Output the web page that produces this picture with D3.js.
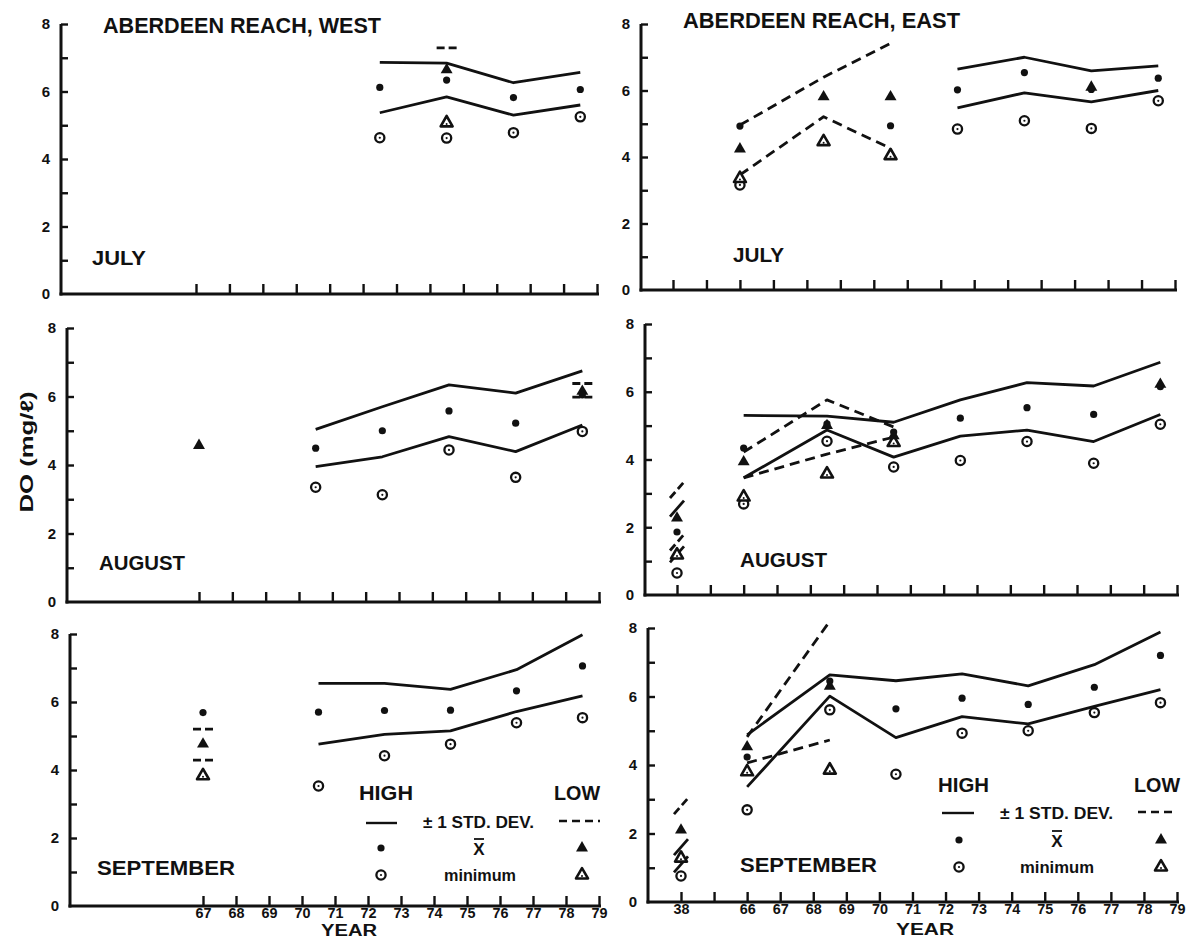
<!DOCTYPE html>
<html>
<head>
<meta charset="utf-8">
<script src="https://cdn.jsdelivr.net/npm/d3@7"></script>
<style>
  body { margin: 0; background: #fff; }
  text { font-family: "Liberation Sans", Arial, sans-serif; font-weight: bold; fill: #111; }
</style>
</head>
<body>
<svg id="chart" width="1189" height="942"></svg>
<script>
// years on each column (east column has a broken axis: 38, gap, 66..79)
var westYears = [67, 70.5, 72.5, 74.5, 76.5, 78.5];
var eastYears = [38, 66, 68.5, 70.5, 72.5, 74.5, 76.5, 78.5];
var westTickYears = [67, 68, 69, 70, 71, 72, 73, 74, 75, 76, 77, 78, 79];
var eastTickLabels = ["38", "", "66", "67", "68", "69", "70", "71", "72", "73", "74", "75", "76", "77", "78", "79"];
var doTicks = [0, 1, 2, 3, 4, 5, 6, 7, 8];

// Aberdeen Reach, West - July
var wJulHighUp   = [null, null, 6.86, 6.84, 6.26, 6.57];
var wJulHighLo   = [null, null, 5.37, 5.84, 5.30, 5.60];
var wJulHighMean = [null, null, 6.12, 6.34, 5.82, 6.06];
var wJulHighMin  = [null, null, 4.63, 4.62, 4.78, 5.25];
var wJulLowUp    = [null, null, null, 7.29, null, null];
var wJulLowLo    = [null, null, null, null, null, null];
var wJulLowMean  = [null, null, null, 6.64, null, null];
var wJulLowMin   = [null, null, null, 5.07, null, null];

// West - August
var wAugHighUp   = [null, 5.04, 5.70, 6.34, 6.10, 6.75];
var wAugHighLo   = [null, 3.95, 4.24, 4.83, 4.39, 5.17];
var wAugHighMean = [null, 4.49, 5.00, 5.58, 5.22, 6.05];
var wAugHighMin  = [null, 3.35, 3.13, 4.44, 3.64, 4.98];
var wAugLowUp    = [null, null, null, null, null, 6.38];
var wAugLowLo    = [null, null, null, null, null, 5.98];
var wAugLowMean  = [4.57, null, null, null, null, 6.15];
var wAugLowMin   = [null, null, null, null, null, null];

// West - September
var wSepHighUp   = [null, 6.55, 6.55, 6.37, 6.95, 7.98];
var wSepHighLo   = [null, 4.76, 5.05, 5.15, 5.72, 6.18];
var wSepHighMean = [5.69, 5.70, 5.75, 5.76, 6.33, 7.06];
var wSepHighMin  = [null, 3.53, 4.42, 4.76, 5.39, 5.54];
var wSepLowUp    = [5.20, null, null, null, null, null];
var wSepLowLo    = [4.29, null, null, null, null, null];
var wSepLowMean  = [4.76, null, null, null, null, null];
var wSepLowMin   = [3.83, null, null, null, null, null];

// Aberdeen Reach, East - July
var eJulHighUp   = [null, null, null, null, 6.64, 7.00, 6.59, 6.74];
var eJulHighLo   = [null, null, null, null, 5.48, 5.93, 5.66, 6.00];
var eJulHighMean = [null, 4.93, null, 4.94, 6.02, 6.54, 6.03, 6.37];
var eJulHighMin  = [null, 3.16, null, null, 4.84, 5.09, 4.86, 5.69];
var eJulLowUp    = [null, 4.96, 6.40, 7.42, null, null, null, null];
var eJulLowLo    = [null, 3.46, 5.21, 4.26, null, null, null, null];
var eJulLowMean  = [null, 4.24, 5.81, 5.81, null, null, 6.10, null];
var eJulLowMin   = [null, 3.35, 4.46, 4.04, null, null, null, null];

// East - August
var eAugHighUp   = [2.55, 5.30, 5.28, 5.10, 5.76, 6.27, 6.17, 6.87];
var eAugHighLo   = [1.20, 3.46, 4.87, 4.07, 4.69, 4.87, 4.53, 5.33];
var eAugHighMean = [1.86, 4.34, 5.05, 4.81, 5.22, 5.53, 5.33, 6.15];
var eAugHighMin  = [0.65, 2.69, 4.54, 3.78, 3.97, 4.53, 3.89, 5.04];
var eAugLowUp    = [3.10, 4.22, 5.76, 4.96, null, null, null, null];
var eAugLowLo    = [1.55, 3.46, 4.16, 4.66, null, null, null, null];
var eAugLowMean  = [2.27, 3.93, 5.00, 4.70, null, null, null, 6.22];
var eAugLowMin   = [1.18, 2.89, 3.57, 4.50, null, null, null, null];

// East - September
var eSepHighUp   = [1.60, 4.88, 6.63, 6.46, 6.66, 6.31, 6.93, 7.88];
var eSepHighLo   = [1.10, 3.36, 6.01, 4.80, 5.41, 5.20, 5.71, 6.20];
var eSepHighMean = [null, 4.23, 6.45, 5.64, 5.95, 5.77, 6.27, 7.20];
var eSepHighMin  = [0.76, 2.69, 5.61, 3.73, 4.93, 5.00, 5.53, 5.82];
var eSepLowUp    = [2.80, 4.82, 8.20, null, null, null, null, null];
var eSepLowLo    = [null, 4.06, 4.73, null, null, null, null, null];
var eSepLowMean  = [2.10, 4.53, 6.30, null, null, null, null, null];
var eSepLowMin   = [1.28, 3.80, 3.85, null, null, null, null, null];

var ink = "#111";
var svg = d3.select("#chart");

// the scan is slightly skewed, so each panel keeps its own frame
var panels = [
  { west: true,  ax: 61,  xr: [196, 597],  yr: [294, 24],  month: "JULY",      mx: 92,  my: 265, mw: 54,
    s: [wJulHighUp, wJulHighLo, wJulHighMean, wJulHighMin, wJulLowUp, wJulLowLo, wJulLowMean, wJulLowMin] },
  { west: true,  ax: 67,  xr: [199, 599],  yr: [602, 328], month: "AUGUST",    mx: 99,  my: 570, mw: 86,
    s: [wAugHighUp, wAugHighLo, wAugHighMean, wAugHighMin, wAugLowUp, wAugLowLo, wAugLowMean, wAugLowMin] },
  { west: true,  ax: 70,  xr: [203, 599],  yr: [906, 634], month: "SEPTEMBER", mx: 97,  my: 875, mw: 138, bottom: true,
    s: [wSepHighUp, wSepHighLo, wSepHighMean, wSepHighMin, wSepLowUp, wSepLowLo, wSepLowMean, wSepLowMin] },
  { west: false, ax: 641, xr: [673, 1175], yr: [290, 24],  month: "JULY",      mx: 733, my: 262, mw: 51,
    s: [eJulHighUp, eJulHighLo, eJulHighMean, eJulHighMin, eJulLowUp, eJulLowLo, eJulLowMean, eJulLowMin] },
  { west: false, ax: 645, xr: [677, 1177], yr: [595, 324], month: "AUGUST",    mx: 740, my: 567, mw: 87,
    s: [eAugHighUp, eAugHighLo, eAugHighMean, eAugHighMin, eAugLowUp, eAugLowLo, eAugLowMean, eAugLowMin] },
  { west: false, ax: 648, xr: [681, 1177], yr: [902, 628], month: "SEPTEMBER", mx: 740, my: 872, mw: 137, bottom: true,
    s: [eSepHighUp, eSepHighLo, eSepHighMean, eSepHighMin, eSepLowUp, eSepLowLo, eSepLowMean, eSepLowMin] }
];

function eastPos(yr) { return yr === 38 ? 0 : yr - 64; }

// split a series into connected runs (gaps and the 38 break cut the line)
function runs(years, vals) {
  var out = [], cur = [];
  years.forEach(function(yr, i) {
    var v = vals[i];
    if (v == null) { if (cur.length) out.push(cur); cur = []; return; }
    if (cur.length && (cur[cur.length - 1].yr < 60) !== (yr < 60)) { out.push(cur); cur = []; }
    cur.push({ yr: yr, v: v });
  });
  if (cur.length) out.push(cur);
  return out;
}

function dot(g, cx, cy) {
  g.append("circle").attr("cx", cx).attr("cy", cy).attr("r", 3.6).attr("fill", ink);
}
function ring(g, cx, cy) {
  g.append("circle").attr("cx", cx).attr("cy", cy).attr("r", 4.6)
    .attr("fill", "#fff").attr("stroke", ink).attr("stroke-width", 2.3);
  g.append("circle").attr("cx", cx).attr("cy", cy).attr("r", 1.1).attr("fill", ink);
}
var tri = d3.symbol().type(d3.symbolTriangle).size(62);
function triFilled(g, cx, cy) {
  g.append("path").attr("d", tri).attr("transform", "translate(" + cx + "," + cy + ")").attr("fill", ink);
}
function triOpen(g, cx, cy) {
  g.append("path").attr("d", tri).attr("transform", "translate(" + cx + "," + cy + ")")
    .attr("fill", "#fff").attr("stroke", ink).attr("stroke-width", 2.6).attr("stroke-linejoin", "round");
  g.append("circle").attr("cx", cx).attr("cy", cy + 1).attr("r", 1).attr("fill", ink);
}

panels.forEach(function(p) {
  var g = svg.append("g");
  var years = p.west ? westYears : eastYears;
  var pos = p.west ? function(d) { return d; } : eastPos;
  var x = d3.scaleLinear().domain(p.west ? [67, 79] : [0, 15]).range(p.xr);
  var y = d3.scaleLinear().domain([0, 8]).range(p.yr);

  // axes
  var yAxis = d3.axisLeft(y).tickValues(doTicks).tickSize(-7).tickSizeOuter(0).tickPadding(11)
    .tickFormat(function(d) { return d % 2 ? "" : d; });
  var ya = g.append("g").attr("transform", "translate(" + p.ax + ",0)").call(yAxis);
  ya.select(".domain").remove();
  ya.selectAll(".tick line").attr("stroke", ink).attr("stroke-width", 2.4);
  ya.selectAll(".tick text").attr("font-size", 15).attr("fill", ink).attr("font-family", null);
  ya.selectAll(".tick").filter(function(d) { return d === 0; }).select("line").remove();

  var xAxis = d3.axisBottom(x)
    .tickValues(p.west ? westTickYears : d3.range(16))
    .tickSize(-10).tickSizeOuter(0).tickPadding(2)
    .tickFormat(function(d, i) { return p.bottom ? (p.west ? d : eastTickLabels[i]) : ""; });
  var xa = g.append("g").attr("transform", "translate(0," + y(0) + ")").call(xAxis);
  xa.select(".domain").remove();
  xa.selectAll(".tick line").attr("stroke", ink).attr("stroke-width", 2.4);
  xa.selectAll(".tick text").attr("font-size", 14).attr("fill", ink).attr("font-family", null)
    .attr("textLength", function() { return this.textContent.length ? 16 : null; })
    .attr("lengthAdjust", "spacingAndGlyphs");

  g.append("line").attr("x1", p.ax).attr("x2", p.ax).attr("y1", y(8)).attr("y2", y(0) + 1.5)
    .attr("stroke", ink).attr("stroke-width", 3);
  g.append("line").attr("x1", p.ax - 1.5).attr("x2", p.xr[1] + 2).attr("y1", y(0)).attr("y2", y(0))
    .attr("stroke", ink).attr("stroke-width", 3);

  // ±1 std dev lines: high solid, low dashed
  var line = d3.line().x(function(d) { return x(pos(d.yr)); }).y(function(d) { return y(d.v); });
  [[p.s[0], false], [p.s[1], false], [p.s[4], true], [p.s[5], true]].forEach(function(ls) {
    runs(years, ls[0]).forEach(function(r) {
      var path;
      if (r.length > 1) {
        path = g.append("path").attr("d", line(r));
      } else {
        var cx = x(pos(r[0].yr)), cy = y(r[0].v);
        if (r[0].yr === 38) {
          path = g.append("path").attr("d", "M" + (cx - 7) + "," + (cy + 8) + "L" + (cx + 7) + "," + (cy - 8));
        } else {
          path = g.append("path").attr("d", "M" + (cx - 10) + "," + cy + "L" + (cx + 10) + "," + cy);
        }
      }
      path.attr("fill", "none").attr("stroke", ink).attr("stroke-width", 2.8).attr("stroke-linejoin", "round");
      if (ls[1]) path.attr("stroke-dasharray", r.length > 1 ? "10,6" : "8,4");
    });
  });

  // markers
  years.forEach(function(yr, i) {
    var cx = x(pos(yr));
    if (p.s[3][i] != null) ring(g, cx, y(p.s[3][i]));
    if (p.s[7][i] != null) triOpen(g, cx, y(p.s[7][i]));
    if (p.s[6][i] != null) triFilled(g, cx, y(p.s[6][i]));
    if (p.s[2][i] != null) dot(g, cx, y(p.s[2][i]));
  });

  g.append("text").attr("x", p.mx).attr("y", p.my).attr("font-size", 21)
    .attr("textLength", p.mw).attr("lengthAdjust", "spacingAndGlyphs").text(p.month);
});

// titles
svg.append("text").attr("x", 103).attr("y", 33).attr("font-size", 22)
  .attr("textLength", 278).attr("lengthAdjust", "spacingAndGlyphs").text("ABERDEEN REACH, WEST");
svg.append("text").attr("x", 683).attr("y", 28).attr("font-size", 22)
  .attr("textLength", 277).attr("lengthAdjust", "spacingAndGlyphs").text("ABERDEEN REACH, EAST");

// axis titles
svg.append("text").attr("transform", "translate(33,452) rotate(-90)").attr("text-anchor", "middle")
  .attr("font-size", 18).attr("textLength", 121).attr("lengthAdjust", "spacingAndGlyphs").text("DO (mg/ℓ)");
svg.append("text").attr("x", 321).attr("y", 936).attr("font-size", 16)
  .attr("textLength", 56).attr("lengthAdjust", "spacingAndGlyphs").text("YEAR");
svg.append("text").attr("x", 896).attr("y", 935).attr("font-size", 16)
  .attr("textLength", 58).attr("lengthAdjust", "spacingAndGlyphs").text("YEAR");

// legends
function legend(L) {
  var g = svg.append("g");
  g.append("text").attr("x", L.hx).attr("y", L.hy).attr("font-size", 21)
    .attr("textLength", L.hw).attr("lengthAdjust", "spacingAndGlyphs").text("HIGH");
  g.append("text").attr("x", L.lx).attr("y", L.hy).attr("font-size", 21)
    .attr("textLength", 46).attr("lengthAdjust", "spacingAndGlyphs").text("LOW");
  g.append("line").attr("x1", L.s1[0]).attr("x2", L.s1[1]).attr("y1", L.s1[2]).attr("y2", L.s1[2])
    .attr("stroke", ink).attr("stroke-width", 2.4);
  g.append("text").attr("x", L.sx).attr("y", L.sy).attr("font-size", 16)
    .attr("textLength", L.sw).attr("lengthAdjust", "spacingAndGlyphs").text("± 1 STD. DEV.");
  g.append("line").attr("x1", L.d1[0]).attr("x2", L.d1[1]).attr("y1", L.d1[2]).attr("y2", L.d1[2])
    .attr("stroke", ink).attr("stroke-width", 2.4).attr("stroke-dasharray", "8,5");
  dot(g, L.mk[0], L.r1);
  g.append("text").attr("x", L.xb).attr("y", L.r1 + 7).attr("font-size", 17).attr("text-anchor", "middle").text("X");
  g.append("line").attr("x1", L.xb - 5).attr("x2", L.xb + 5).attr("y1", L.r1 - 9).attr("y2", L.r1 - 9)
    .attr("stroke", ink).attr("stroke-width", 1.8);
  triFilled(g, L.mk[1], L.r1);
  ring(g, L.mk[0], L.r2);
  g.append("text").attr("x", L.mx).attr("y", L.r2 + 6).attr("font-size", 16)
    .attr("textLength", L.mw).attr("lengthAdjust", "spacingAndGlyphs").text("minimum");
  triOpen(g, L.mk[1], L.r2);
}
legend({ hx: 359, hy: 800, hw: 54, lx: 554, s1: [366, 397, 823], sx: 423, sy: 828, sw: 111, d1: [559, 600, 821],
         mk: [381, 582], r1: 848, xb: 479, r2: 875, mx: 444, mw: 72 });
legend({ hx: 938, hy: 792, hw: 51, lx: 1134, s1: [942, 974, 813], sx: 1000, sy: 819, sw: 113, d1: [1138, 1172, 812],
         mk: [959, 1161], r1: 840, xb: 1057, r2: 867, mx: 1020, mw: 74 });
</script>
</body>
</html>
